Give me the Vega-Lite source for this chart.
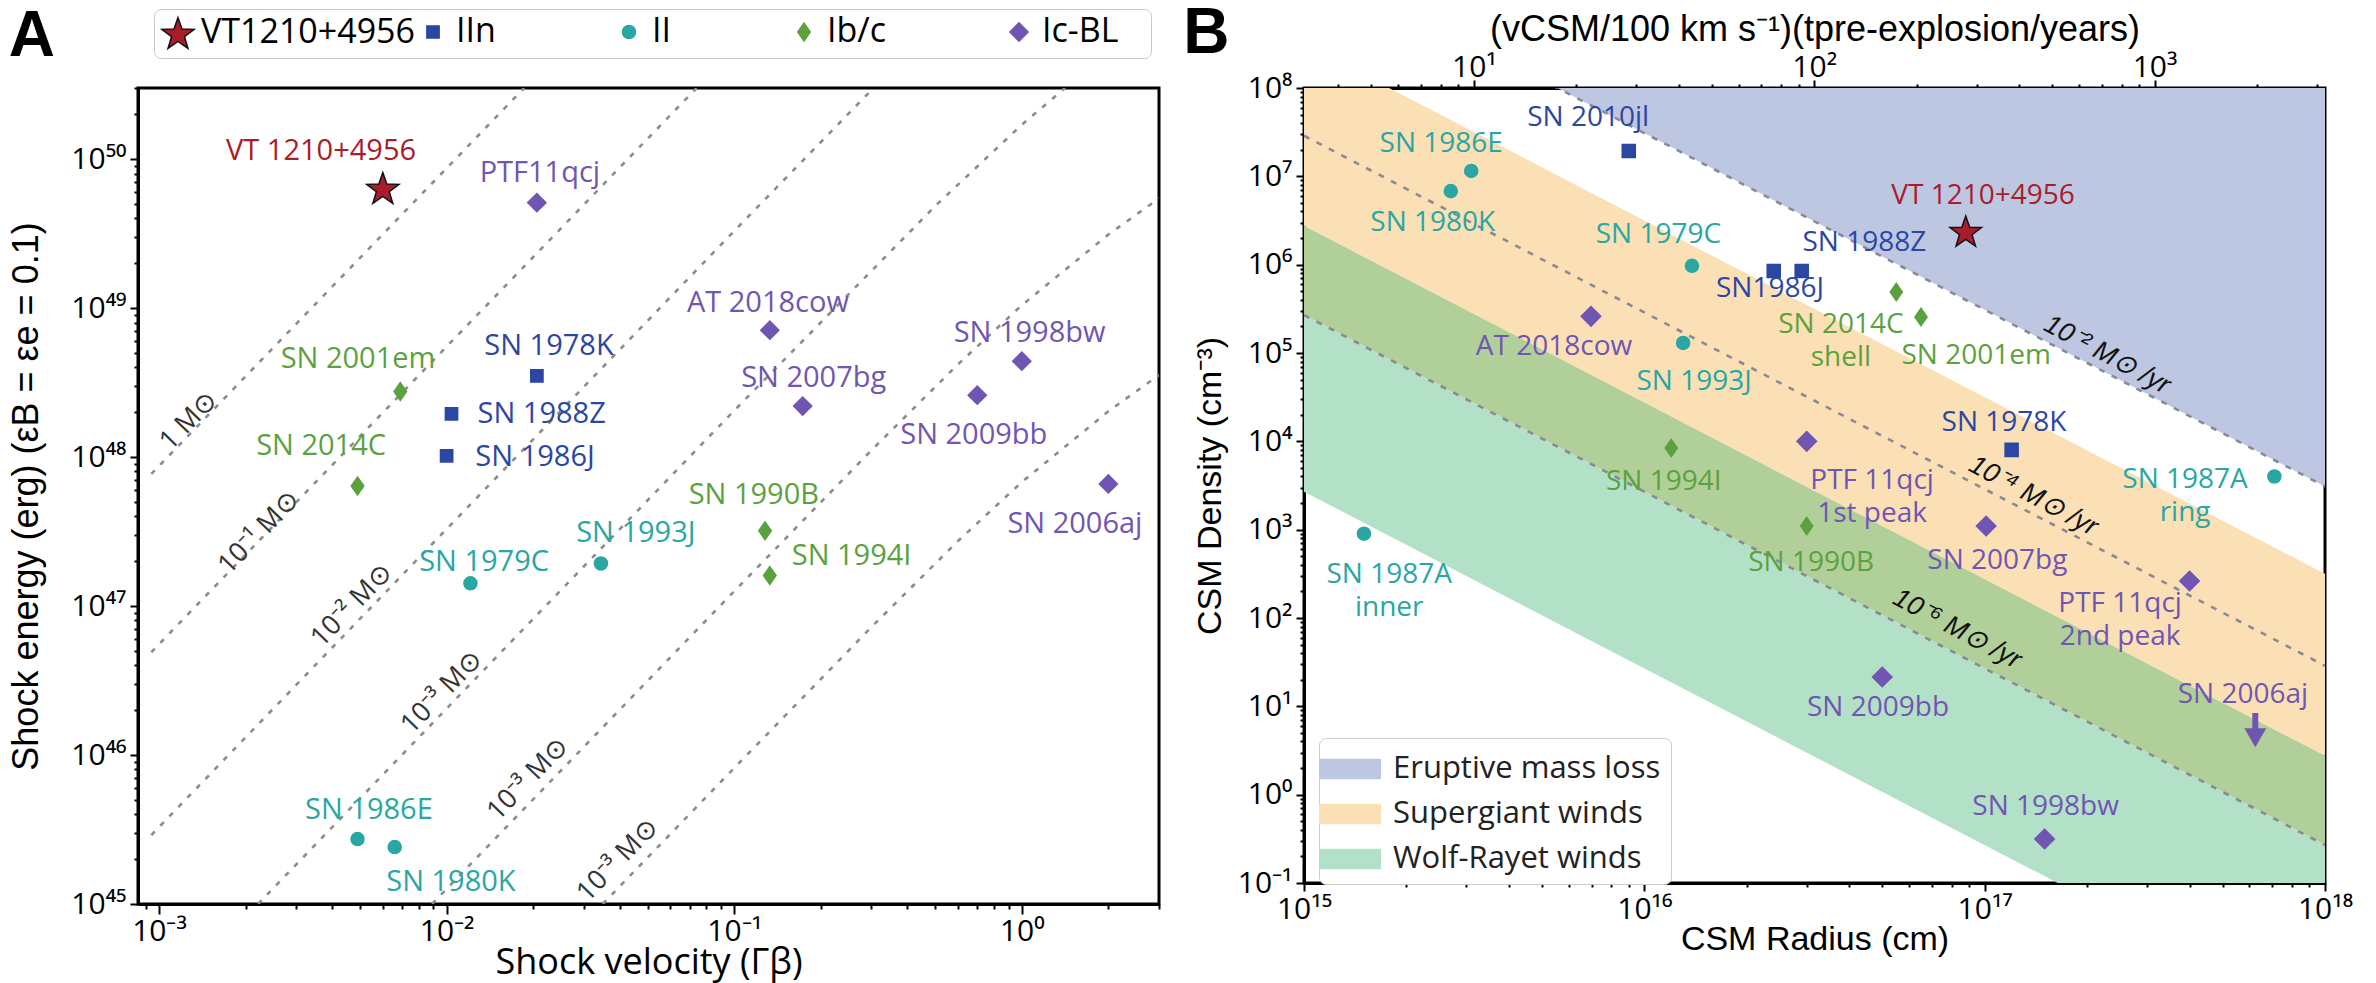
{
  "$schema": "https://vega.github.io/schema/vega-lite/v6.json",
  "background": "white",
  "padding": {"left": 7, "top": 0, "right": 4, "bottom": 2},
  "bounds": "flush",
  "spacing": 145,
  "config": {
    "view": {"stroke": "black", "strokeWidth": 3},
    "text": {"font": "Open Sans"},
    "axis": {"domainColor": "black", "domainWidth": 3, "tickColor": "black", "tickWidth": 2, "labelColor": "black", "titleColor": "black", "grid": false, "zindex": 1, "labelFont": "Open Sans", "labelFontSize": 30, "titleFontWeight": "normal", "labelOverlap": false, "labelFlush": false, "labelBound": false}
  },
  "resolve": {"scale": {"color": "independent", "shape": "independent", "size": "independent", "stroke": "independent", "x": "independent", "y": "independent"}},
  "datasets": {
    "aLines": [
      {"line": "a", "x": 0.00094, "y": 7.7e47}, {"line": "a", "x": 0.0186, "y": 3.0e50},
      {"line": "b", "x": 0.00094, "y": 4.9e46}, {"line": "b", "x": 0.074, "y": 3.0e50},
      {"line": "c", "x": 0.00094, "y": 2.9e45}, {"line": "c", "x": 0.1, "y": 3.29e49}, {"line": "c", "x": 0.305, "y": 3.0e50},
      {"line": "d", "x": 0.00221, "y": 1.0e45}, {"line": "d", "x": 0.1, "y": 2.05e48}, {"line": "d", "x": 0.5, "y": 4.84e49}, {"line": "d", "x": 1.0, "y": 1.7e50}, {"line": "d", "x": 1.414, "y": 3.0e50},
      {"line": "e", "x": 0.0089, "y": 1.0e45}, {"line": "e", "x": 0.1, "y": 1.257e47}, {"line": "e", "x": 0.3, "y": 1.11e48}, {"line": "e", "x": 0.6, "y": 4.19e48}, {"line": "e", "x": 1.0, "y": 1.044e49}, {"line": "e", "x": 2.0, "y": 3.115e49}, {"line": "e", "x": 3.0, "y": 5.45e49},
      {"line": "f", "x": 0.0349, "y": 1.0e45}, {"line": "f", "x": 0.1, "y": 8.18e45}, {"line": "f", "x": 0.3, "y": 7.22e46}, {"line": "f", "x": 0.6, "y": 2.73e47}, {"line": "f", "x": 1.0, "y": 6.79e47}, {"line": "f", "x": 2.0, "y": 2.03e48}, {"line": "f", "x": 3.0, "y": 3.55e48}
    ],
    "aLineLabels": [
      {"label": "1 M⊙", "x": 0.00127, "y": 1.75e48},
      {"label": "10⁻¹ M⊙", "x": 0.00223, "y": 3.11e47},
      {"label": "10⁻² M⊙", "x": 0.00469, "y": 1.01e47},
      {"label": "10⁻³ M⊙", "x": 0.00964, "y": 2.64e46},
      {"label": "10⁻³ M⊙", "x": 0.0192, "y": 6.9e45},
      {"label": "10⁻³ M⊙", "x": 0.0394, "y": 1.97e45}
    ],
    "aPoints": [
      {"name": "VT 1210+4956", "type": "VT1210+4956", "x": 0.006, "y": 6.4e49},
      {"name": "PTF11qcj", "type": "Ic-BL", "x": 0.0206, "y": 5.1e49},
      {"name": "SN 2001em", "type": "Ib/c", "x": 0.0069, "y": 2.75e48},
      {"name": "SN 1978K", "type": "IIn", "x": 0.0206, "y": 3.5e48},
      {"name": "SN 1988Z", "type": "IIn", "x": 0.0104, "y": 1.95e48},
      {"name": "SN 1986J", "type": "IIn", "x": 0.01, "y": 1.02e48},
      {"name": "SN 2014C", "type": "Ib/c", "x": 0.0049, "y": 6.4e47},
      {"name": "AT 2018cow", "type": "Ic-BL", "x": 0.133, "y": 7.1e48},
      {"name": "SN 2007bg", "type": "Ic-BL", "x": 0.173, "y": 2.2e48},
      {"name": "SN 1998bw", "type": "Ic-BL", "x": 1.0, "y": 4.4e48},
      {"name": "SN 2009bb", "type": "Ic-BL", "x": 0.7, "y": 2.6e48},
      {"name": "SN 2006aj", "type": "Ic-BL", "x": 2.0, "y": 6.6e47},
      {"name": "SN 1990B", "type": "Ib/c", "x": 0.128, "y": 3.2e47},
      {"name": "SN 1994I", "type": "Ib/c", "x": 0.133, "y": 1.6e47},
      {"name": "SN 1993J", "type": "II", "x": 0.0344, "y": 1.93e47},
      {"name": "SN 1979C", "type": "II", "x": 0.0121, "y": 1.42e47},
      {"name": "SN 1986E", "type": "II", "x": 0.0049, "y": 2.73e45},
      {"name": "SN 1980K", "type": "II", "x": 0.0066, "y": 2.41e45}
    ],
    "aLabels": [
      {"label": "VT 1210+4956", "type": "VT1210+4956", "x": 0.00366, "y": 1.13e50},
      {"label": "PTF11qcj", "type": "Ic-BL", "x": 0.0211, "y": 8.06e49},
      {"label": "SN 2001em", "type": "Ib/c", "x": 0.00492, "y": 4.57e48},
      {"label": "SN 1978K", "type": "IIn", "x": 0.0227, "y": 5.58e48},
      {"label": "SN 1988Z", "type": "IIn", "x": 0.0214, "y": 1.95e48},
      {"label": "SN 1986J", "type": "IIn", "x": 0.0203, "y": 1.0e48},
      {"label": "SN 2014C", "type": "Ib/c", "x": 0.00366, "y": 1.19e48},
      {"label": "AT 2018cow", "type": "Ic-BL", "x": 0.131, "y": 1.08e49},
      {"label": "SN 2007bg", "type": "Ic-BL", "x": 0.189, "y": 3.4e48},
      {"label": "SN 1998bw", "type": "Ic-BL", "x": 1.064, "y": 6.82e48},
      {"label": "SN 2009bb", "type": "Ic-BL", "x": 0.681, "y": 1.41e48},
      {"label": "SN 2006aj", "type": "Ic-BL", "x": 1.53, "y": 3.58e47},
      {"label": "SN 1990B", "type": "Ib/c", "x": 0.117, "y": 5.6e47},
      {"label": "SN 1993J", "type": "II", "x": 0.0455, "y": 3.07e47},
      {"label": "SN 1994I", "type": "Ib/c", "x": 0.256, "y": 2.18e47},
      {"label": "SN 1979C", "type": "II", "x": 0.0135, "y": 1.96e47},
      {"label": "SN 1986E", "type": "II", "x": 0.00537, "y": 4.27e45},
      {"label": "SN 1980K", "type": "II", "x": 0.01035, "y": 1.4e45}
    ],
    "bBands": [
      {"kind": "Eruptive mass loss", "R": 1e15, "n": 1e12, "n2": 3.09e9},
      {"kind": "Eruptive mass loss", "R": 1e18, "n": 1e12, "n2": 3090},
      {"kind": "Supergiant winds", "R": 1e15, "n": 3.16e8, "n2": 2.75e6},
      {"kind": "Supergiant winds", "R": 1e18, "n": 316, "n2": 2.75},
      {"kind": "overlap", "R": 1e15, "n": 2.75e6, "n2": 2.69e5},
      {"kind": "overlap", "R": 1e18, "n": 2.75, "n2": 0.269},
      {"kind": "Wolf-Rayet winds", "R": 1e15, "n": 2.69e5, "n2": 2690},
      {"kind": "Wolf-Rayet winds", "R": 1e18, "n": 0.269, "n2": 0.00269}
    ],
    "bLines": [
      {"line": "-2", "R": 1e15, "n": 3.09e9}, {"line": "-2", "R": 1e18, "n": 3090},
      {"line": "-4", "R": 1e15, "n": 2.88e7}, {"line": "-4", "R": 1e18, "n": 28.8},
      {"line": "-6", "R": 1e15, "n": 2.69e5}, {"line": "-6", "R": 1e18, "n": 0.269}
    ],
    "bLineLabels": [
      {"label": "10⁻² M⊙ /yr", "R": 2.29e17, "n": 9.5e4},
      {"label": "10⁻⁴ M⊙ /yr", "R": 1.39e17, "n": 2400},
      {"label": "10⁻⁶ M⊙ /yr", "R": 8.3e16, "n": 75}
    ],
    "bArrow": [{"name": "SN 2006aj", "R": 6.24e17, "n": 8.4, "n2": 5.0}],
    "bArrowHead": [{"name": "SN 2006aj", "R": 6.24e17, "n": 4.4}],
    "bPoints": [
      {"name": "SN 1986E", "type": "II", "R": 3.1e15, "n": 1.15e7},
      {"name": "SN 1980K", "type": "II", "R": 2.7e15, "n": 6.8e6},
      {"name": "SN 2010jl", "type": "IIn", "R": 9.0e15, "n": 1.94e7},
      {"name": "AT 2018cow", "type": "Ic-BL", "R": 6.97e15, "n": 2.6e5},
      {"name": "SN 1979C", "type": "II", "R": 1.38e16, "n": 9.7e5},
      {"name": "SN 1993J", "type": "II", "R": 1.3e16, "n": 1.3e5},
      {"name": "SN 1994I", "type": "Ib/c", "R": 1.2e16, "n": 8400},
      {"name": "SN 1987A inner", "type": "II", "R": 1.5e15, "n": 900},
      {"name": "VT 1210+4956", "type": "VT1210+4956", "R": 8.8e16, "n": 2.4e6},
      {"name": "SN 2014C shell", "type": "Ib/c", "R": 5.5e16, "n": 4.9e5},
      {"name": "SN 2001em", "type": "Ib/c", "R": 6.5e16, "n": 2.56e5},
      {"name": "SN 1978K", "type": "IIn", "R": 1.2e17, "n": 8000},
      {"name": "SN 1988Z", "type": "IIn", "R": 2.4e16, "n": 8.5e5},
      {"name": "SN 1986J", "type": "IIn", "R": 2.9e16, "n": 8.5e5},
      {"name": "PTF 11qcj 1st peak", "type": "Ic-BL", "R": 3.0e16, "n": 1.0e4},
      {"name": "SN 1990B", "type": "Ib/c", "R": 3.0e16, "n": 1100},
      {"name": "SN 2007bg", "type": "Ic-BL", "R": 1.01e17, "n": 1100},
      {"name": "PTF 11qcj 2nd peak", "type": "Ic-BL", "R": 4.0e17, "n": 262},
      {"name": "SN 2009bb", "type": "Ic-BL", "R": 5.0e16, "n": 21.5},
      {"name": "SN 1998bw", "type": "Ic-BL", "R": 1.5e17, "n": 0.315},
      {"name": "SN 1987A ring", "type": "II", "R": 7.1e17, "n": 4000}
    ],
    "bLabels": [
      {"label": "SN 1986E", "type": "II", "R": 2.53e15, "n": 2.32e7},
      {"label": "SN 2010jl", "type": "IIn", "R": 6.84e15, "n": 4.57e7},
      {"label": "SN 1980K", "type": "II", "R": 2.39e15, "n": 2.97e6},
      {"label": "AT 2018cow", "type": "Ic-BL", "R": 5.43e15, "n": 1.17e5},
      {"label": "SN 1979C", "type": "II", "R": 1.1e16, "n": 2.17e6},
      {"label": "SN 1993J", "type": "II", "R": 1.4e16, "n": 4.7e4},
      {"label": "SN1986J", "type": "IIn", "R": 2.34e16, "n": 5.3e5},
      {"label": "SN 1988Z", "type": "IIn", "R": 4.43e16, "n": 1.76e6},
      {"label": "VT 1210+4956", "type": "VT1210+4956", "R": 9.89e16, "n": 5.98e6},
      {"label": "SN 2014C\nshell", "type": "Ib/c", "R": 3.78e16, "n": 2.07e5},
      {"label": "SN 2001em", "type": "Ib/c", "R": 9.44e16, "n": 9.25e4},
      {"label": "SN 1978K", "type": "IIn", "R": 1.14e17, "n": 1.61e4},
      {"label": "PTF 11qcj\n1st peak", "type": "Ic-BL", "R": 4.67e16, "n": 3560},
      {"label": "SN 1994I", "type": "Ib/c", "R": 1.14e16, "n": 3460},
      {"label": "SN 1990B", "type": "Ib/c", "R": 3.09e16, "n": 419},
      {"label": "SN 2007bg", "type": "Ic-BL", "R": 1.09e17, "n": 442},
      {"label": "PTF 11qcj\n2nd peak", "type": "Ic-BL", "R": 2.5e17, "n": 144},
      {"label": "SN 1987A\nring", "type": "II", "R": 3.88e17, "n": 3650},
      {"label": "SN 2006aj", "type": "Ic-BL", "R": 5.74e17, "n": 13.4},
      {"label": "SN 2009bb", "type": "Ic-BL", "R": 4.86e16, "n": 9.57},
      {"label": "SN 1998bw", "type": "Ic-BL", "R": 1.51e17, "n": 0.724},
      {"label": "SN 1987A\ninner", "type": "II", "R": 1.78e15, "n": 307}
    ],
    "bTop": [{"t": 3.1688}, {"t": 3168.8}]
  },
  "hconcat": [
    {
      "width": 1021,
      "height": 816,
      "title": {"text": "A", "anchor": "start", "frame": "bounds", "orient": "top", "fontSize": 64, "font": "Liberation Sans", "fontWeight": "bold", "color": "black", "offset": 0, "dy": 60, "dx": 0},
      "encoding": {
        "x": {"field": "x", "type": "quantitative", "title": "Shock velocity (Γβ)",
          "scale": {"type": "log", "domain": [0.000845, 3], "nice": false},
          "axis": {"values": [0.0009,0.001,0.002,0.003,0.004,0.005,0.006,0.007,0.008,0.009,0.01,0.02,0.03,0.04,0.05,0.06,0.07,0.08,0.09,0.1,0.2,0.3,0.4,0.5,0.6,0.7,0.8,0.9,1,2,3],
            "labelExpr": "abs(log(datum.value)/LN10-round(log(datum.value)/LN10))<1e-6 ? '10'+(round(log(datum.value)/LN10)<0?'⁻':'')+(abs(round(log(datum.value)/LN10))>=10?substring('⁰¹²³⁴⁵⁶⁷⁸⁹',floor(abs(round(log(datum.value)/LN10))/10),floor(abs(round(log(datum.value)/LN10))/10)+1):'')+substring('⁰¹²³⁴⁵⁶⁷⁸⁹',abs(round(log(datum.value)/LN10))%10,abs(round(log(datum.value)/LN10))%10+1) : ''",
            "tickSize": {"condition": {"test": "abs(log(datum.value)/LN10-round(log(datum.value)/LN10))<1e-6", "value": 10}, "value": 5},
            "titleFont": "Open Sans", "titleFontSize": 36, "titlePadding": -1, "labelPadding": 2}},
        "y": {"field": "y", "type": "quantitative", "title": "Shock energy (erg) (εB = εe = 0.1)",
          "scale": {"type": "log", "domain": [1e45, 3e50], "nice": false},
          "axis": {"values": [1e45,2e45,3e45,4e45,5e45,6e45,7e45,8e45,9e45,1e46,2e46,3e46,4e46,5e46,6e46,7e46,8e46,9e46,1e47,2e47,3e47,4e47,5e47,6e47,7e47,8e47,9e47,1e48,2e48,3e48,4e48,5e48,6e48,7e48,8e48,9e48,1e49,2e49,3e49,4e49,5e49,6e49,7e49,8e49,9e49,1e50,2e50,3e50],
            "labelExpr": "abs(log(datum.value)/LN10-round(log(datum.value)/LN10))<1e-6 ? '10'+(round(log(datum.value)/LN10)<0?'⁻':'')+(abs(round(log(datum.value)/LN10))>=10?substring('⁰¹²³⁴⁵⁶⁷⁸⁹',floor(abs(round(log(datum.value)/LN10))/10),floor(abs(round(log(datum.value)/LN10))/10)+1):'')+substring('⁰¹²³⁴⁵⁶⁷⁸⁹',abs(round(log(datum.value)/LN10))%10,abs(round(log(datum.value)/LN10))%10+1) : ''",
            "tickSize": {"condition": {"test": "abs(log(datum.value)/LN10-round(log(datum.value)/LN10))<1e-6", "value": 8}, "value": 4},
            "titleFont": "Liberation Sans", "titleFontSize": 36, "titlePadding": 25, "labelPadding": 4}}
      },
      "layer": [
        {"data": {"name": "aLines"}, "mark": {"type": "line", "clip": true, "color": "#8c8c8c", "strokeWidth": 2.6, "strokeDash": [5, 8]}, "encoding": {"detail": {"field": "line"}}},
        {"data": {"name": "aLineLabels"}, "mark": {"type": "text", "angle": 314, "fontSize": 27, "color": "#333333", "font": "Open Sans"}, "encoding": {"text": {"field": "label"}}},
        {"data": {"name": "aPoints"}, "mark": {"type": "point", "filled": true, "opacity": 1, "strokeWidth": 1.5},
          "encoding": {
            "color": {"field": "type", "type": "nominal", "title": null,
              "scale": {"domain": ["VT1210+4956", "IIn", "II", "Ib/c", "Ic-BL"], "range": ["#a81c2c", "#2b46a3", "#2aa6a3", "#5ba23f", "#7056b2"]},
              "legend": {"orient": "none", "legendX": 16, "legendY": -79, "direction": "horizontal", "columns": 5, "title": null,
                "labelFont": "Open Sans", "labelFontSize": 34, "labelColor": "black", "labelLimit": 1000, "padding": 6, "strokeColor": "#c8c8c8", "fillColor": "white", "cornerRadius": 7,
                "columnPadding": 0, "gridAlign": "none", "labelOffset": 5, "symbolStrokeWidth": 1.5,
                "labelExpr": "datum.label == 'IIn' ? 'IIn\u00a0\u00a0\u00a0\u00a0\u00a0\u00a0\u00a0\u00a0\u00a0\u00a0\u00a0\u00a0\u00a0\u200b' : datum.label == 'II' ? 'II\u00a0\u00a0\u00a0\u00a0\u00a0\u00a0\u00a0\u00a0\u00a0\u00a0\u00a0\u00a0\u00a0\u200b' : datum.label == 'Ib/c' ? 'Ib/c\u00a0\u00a0\u00a0\u00a0\u00a0\u00a0\u00a0\u00a0\u00a0\u00a0\u00a0\u00a0\u00a0\u200b' : datum.label == 'Ic-BL' ? 'Ic-BL\u00a0\u00a0\u00a0\u200b' : datum.label"}},
            "shape": {"field": "type", "type": "nominal", "title": null,
              "scale": {"domain": ["VT1210+4956", "IIn", "II", "Ib/c", "Ic-BL"], "range": ["M0,-0.905L0.235,-0.229L0.951,-0.214L0.38,0.219L0.588,0.904L0,0.495L-0.588,0.904L-0.38,0.219L-0.951,-0.214L-0.235,-0.229Z", "square", "circle", "M0,-1L0.7,0L0,1L-0.7,0Z", "diamond"]}},
            "size": {"field": "type", "type": "nominal", "title": null,
              "scale": {"type": "ordinal", "domain": ["VT1210+4956", "IIn", "II", "Ib/c", "Ic-BL"], "range": [1150, 150, 170, 320, 330]}},
            "stroke": {"field": "type", "type": "nominal", "title": null,
              "scale": {"domain": ["VT1210+4956", "IIn", "II", "Ib/c", "Ic-BL"], "range": ["#111111", "#2b46a3", "#2aa6a3", "#5ba23f", "#7056b2"]}}
          }},
        {"data": {"name": "aLabels"}, "mark": {"type": "text", "fontSize": 29, "font": "Open Sans"},
          "encoding": {"text": {"field": "label"},
            "color": {"field": "type", "type": "nominal", "legend": null, "scale": {"domain": ["VT1210+4956", "IIn", "II", "Ib/c", "Ic-BL"], "range": ["#a81c2c", "#2b46a3", "#2aa6a3", "#5ba23f", "#7056b2"]}}}}
      ]
    },
    {
      "width": 1021,
      "height": 795,
      "title": {"text": "B", "anchor": "start", "frame": "bounds", "orient": "top", "fontSize": 64, "font": "Liberation Sans", "fontWeight": "bold", "color": "black", "offset": 0, "dy": 55, "dx": -10},
      "layer": [
        {
          "encoding": {
            "x": {"field": "R", "type": "quantitative", "title": "CSM Radius (cm)",
              "scale": {"type": "log", "domain": [1e15, 1e18], "nice": false},
              "axis": {"values": [1e15,2e15,3e15,4e15,5e15,6e15,7e15,8e15,9e15,1e16,2e16,3e16,4e16,5e16,6e16,7e16,8e16,9e16,1e17,2e17,3e17,4e17,5e17,6e17,7e17,8e17,9e17,1e18],
                "labelExpr": "abs(log(datum.value)/LN10-round(log(datum.value)/LN10))<1e-6 ? '10'+(round(log(datum.value)/LN10)<0?'⁻':'')+(abs(round(log(datum.value)/LN10))>=10?substring('⁰¹²³⁴⁵⁶⁷⁸⁹',floor(abs(round(log(datum.value)/LN10))/10),floor(abs(round(log(datum.value)/LN10))/10)+1):'')+substring('⁰¹²³⁴⁵⁶⁷⁸⁹',abs(round(log(datum.value)/LN10))%10,abs(round(log(datum.value)/LN10))%10+1) : ''",
                "tickSize": {"condition": {"test": "abs(log(datum.value)/LN10-round(log(datum.value)/LN10))<1e-6", "value": 8}, "value": 4},
                "titleFont": "Liberation Sans", "titleFontSize": 34, "titlePadding": -2, "labelPadding": 3}},
            "y": {"field": "n", "type": "quantitative", "title": "CSM Density (cm⁻³)",
              "scale": {"type": "log", "domain": [0.1, 1e8], "nice": false},
              "axis": {"values": [0.1,0.2,0.3,0.4,0.5,0.6,0.7,0.8,0.9,1,2,3,4,5,6,7,8,9,10,20,30,40,50,60,70,80,90,100,200,300,400,500,600,700,800,900,1000,2000,3000,4000,5000,6000,7000,8000,9000,1e4,2e4,3e4,4e4,5e4,6e4,7e4,8e4,9e4,1e5,2e5,3e5,4e5,5e5,6e5,7e5,8e5,9e5,1e6,2e6,3e6,4e6,5e6,6e6,7e6,8e6,9e6,1e7,2e7,3e7,4e7,5e7,6e7,7e7,8e7,9e7,1e8],
                "labelExpr": "abs(log(datum.value)/LN10-round(log(datum.value)/LN10))<1e-6 ? '10'+(round(log(datum.value)/LN10)<0?'⁻':'')+(abs(round(log(datum.value)/LN10))>=10?substring('⁰¹²³⁴⁵⁶⁷⁸⁹',floor(abs(round(log(datum.value)/LN10))/10),floor(abs(round(log(datum.value)/LN10))/10)+1):'')+substring('⁰¹²³⁴⁵⁶⁷⁸⁹',abs(round(log(datum.value)/LN10))%10,abs(round(log(datum.value)/LN10))%10+1) : ''",
                "tickSize": {"condition": {"test": "abs(log(datum.value)/LN10-round(log(datum.value)/LN10))<1e-6", "value": 8}, "value": 4},
                "titleFont": "Liberation Sans", "titleFontSize": 34, "titlePadding": 10, "labelPadding": 4}}
          },
          "layer": [
            {"data": {"name": "bBands"}, "mark": {"type": "area", "clip": true, "orient": "vertical", "opacity": 1},
              "encoding": {"y2": {"field": "n2"},
                "color": {"field": "kind", "type": "nominal", "title": null,
                  "scale": {"domain": ["Eruptive mass loss", "Supergiant winds", "Wolf-Rayet winds", "overlap"], "range": ["#bdc7e1", "#fbe0b6", "#b3e1c8", "#b1cf98"]},
                  "legend": {"orient": "none", "legendX": 15, "legendY": 650, "title": null, "values": ["Eruptive mass loss", "Supergiant winds", "Wolf-Rayet winds"],
                    "symbolType": "M-1.5,-0.5H1.5V0.5H-1.5Z", "symbolSize": 1708, "symbolStrokeWidth": 0, "symbolOpacity": 1,
                    "labelFont": "Open Sans", "labelFontSize": 31, "labelColor": "#222222", "labelLimit": 1000, "padding": 10, "rowPadding": 9,
                    "strokeColor": "#cccccc", "fillColor": "white", "cornerRadius": 7, "labelOffset": 22}}}},
            {"data": {"name": "bLines"}, "mark": {"type": "line", "clip": true, "color": "#8a8a96", "strokeWidth": 2.6, "strokeDash": [6, 8]}, "encoding": {"detail": {"field": "line"}}},
            {"data": {"name": "bLineLabels"}, "mark": {"type": "text", "angle": 28, "fontSize": 27, "fontStyle": "italic", "font": "Liberation Sans", "color": "#111111"}, "encoding": {"text": {"field": "label"}}},
            {"data": {"name": "bArrow"}, "mark": {"type": "rule", "color": "#7056b2", "strokeWidth": 6}, "encoding": {"y2": {"field": "n2"}}},
            {"data": {"name": "bArrowHead"}, "mark": {"type": "point", "shape": "triangle-down", "filled": true, "size": 480, "color": "#7056b2", "opacity": 1}, "encoding": {}},
            {"data": {"name": "bPoints"}, "mark": {"type": "point", "filled": true, "opacity": 1, "strokeWidth": 1.5},
              "encoding": {
                "color": {"field": "type", "type": "nominal", "legend": null,
                  "scale": {"domain": ["VT1210+4956", "IIn", "II", "Ib/c", "Ic-BL"], "range": ["#a81c2c", "#2b46a3", "#2aa6a3", "#5ba23f", "#7056b2"]}},
                "shape": {"field": "type", "type": "nominal", "legend": null,
                  "scale": {"domain": ["VT1210+4956", "IIn", "II", "Ib/c", "Ic-BL"], "range": ["M0,-0.905L0.235,-0.229L0.951,-0.214L0.38,0.219L0.588,0.904L0,0.495L-0.588,0.904L-0.38,0.219L-0.951,-0.214L-0.235,-0.229Z", "square", "circle", "M0,-1L0.7,0L0,1L-0.7,0Z", "diamond"]}},
                "size": {"field": "type", "type": "nominal", "legend": null,
                  "scale": {"type": "ordinal", "domain": ["VT1210+4956", "IIn", "II", "Ib/c", "Ic-BL"], "range": [1100, 170, 170, 300, 380]}},
                "stroke": {"field": "type", "type": "nominal", "legend": null,
                  "scale": {"domain": ["VT1210+4956", "IIn", "II", "Ib/c", "Ic-BL"], "range": ["#111111", "#2b46a3", "#2aa6a3", "#5ba23f", "#7056b2"]}}
              }},
            {"data": {"name": "bLabels"}, "mark": {"type": "text", "fontSize": 28, "font": "Open Sans", "lineBreak": "\n", "lineHeight": 33},
              "encoding": {"text": {"field": "label"},
                "color": {"field": "type", "type": "nominal", "legend": null, "scale": {"domain": ["VT1210+4956", "IIn", "II", "Ib/c", "Ic-BL"], "range": ["#a81c2c", "#2b46a3", "#2aa6a3", "#5ba23f", "#7056b2"]}}}}
          ],
          "resolve": {"scale": {"color": "independent"}}
        },
        {
          "data": {"name": "bTop"},
          "mark": {"type": "point", "opacity": 0},
          "encoding": {
            "x": {"field": "t", "type": "quantitative", "title": "(vCSM/100 km s⁻¹)(tpre-explosion/years)",
              "scale": {"type": "log", "domain": [3.1688, 3168.8], "nice": false},
              "axis": {"orient": "top", "values": [4,5,6,7,8,9,10,20,30,40,50,60,70,80,90,100,200,300,400,500,600,700,800,900,1000,2000,3000],
                "labelExpr": "abs(log(datum.value)/LN10-round(log(datum.value)/LN10))<1e-6 ? '10'+(round(log(datum.value)/LN10)<0?'⁻':'')+substring('⁰¹²³⁴⁵⁶⁷⁸⁹',abs(round(log(datum.value)/LN10))%10,abs(round(log(datum.value)/LN10))%10+1) : ''",
                "tickSize": {"condition": {"test": "abs(log(datum.value)/LN10-round(log(datum.value)/LN10))<1e-6", "value": 8}, "value": 4},
                "titleFont": "Liberation Sans", "titleFontSize": 36, "titlePadding": 4, "labelPadding": -2}}
          }
        }
      ],
      "resolve": {"scale": {"x": "independent"}, "axis": {"x": "independent"}}
    }
  ]
}
